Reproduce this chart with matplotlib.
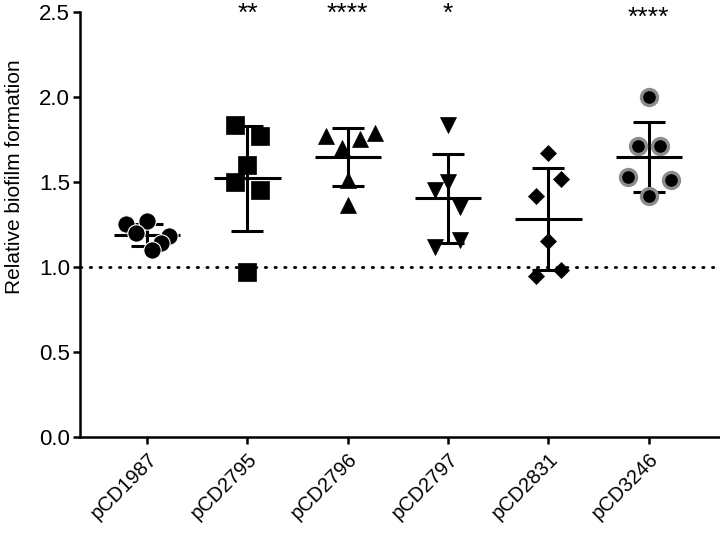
import numpy as np
import matplotlib
matplotlib.use("Agg")
import matplotlib.pyplot as plt

# ---- data ----
categories = ["pCD1987", "pCD2795", "pCD2796", "pCD2797", "pCD2831", "pCD3246"]
pCD1987 = [1.27, 1.25, 1.20, 1.18, 1.14, 1.10]
pCD2795 = [1.835, 1.77, 1.60, 1.50, 1.45, 0.97]
pCD2796 = [1.77, 1.70, 1.75, 1.79, 1.51, 1.365]
pCD2797 = [1.835, 1.50, 1.45, 1.355, 1.12, 1.16]
pCD2831 = [1.67, 1.52, 1.42, 1.153, 0.98, 0.95]
pCD3246 = [2.0, 1.71, 1.71, 1.53, 1.51, 1.42]
significance = ["", "**", "****", "*", "", "****"]
y_ticks = [0.0, 0.5, 1.0, 1.5, 2.0, 2.5]
baseline = 1.0
ylabel = "Relative biofilm formation"

groups = [pCD1987, pCD2795, pCD2796, pCD2797, pCD2831, pCD3246]

# ---- layout / style ----
jitter = [
    [0.0, -0.21, -0.11, 0.22, 0.14, 0.05],
    [-0.12, 0.12, 0.0, -0.12, 0.12, 0.0],
    [-0.22, -0.06, 0.12, 0.27, 0.0, 0.0],
    [0.0, 0.0, -0.13, 0.12, -0.13, 0.12],
    [0.0, 0.13, -0.12, 0.0, 0.13, -0.12],
    [0.0, -0.11, 0.11, -0.21, 0.22, 0.0],
]
styles = [
    dict(marker="o", ms=12.5, mfc="black", mec="white", mew=0.8),
    dict(marker="s", ms=12.5, mfc="black", mec="black", mew=0.5),
    dict(marker="^", ms=11.5, mfc="black", mec="black", mew=0.5),
    dict(marker="v", ms=12, mfc="black", mec="black", mew=0.5),
    dict(marker="D", ms=8.5, mfc="black", mec="black", mew=0.5),
    dict(marker="o", ms=11.5, mfc="black", mec="#8c8c8c", mew=2.4),
]
star_y = [2.49, 2.49, 2.49, 2.49, 2.49, 2.465]

plt.rcParams["font.family"] = ["Liberation Sans", "DejaVu Sans"]

fig = plt.figure(figsize=(7.2, 5.34), dpi=100)
ax = fig.add_axes([0.111, 0.1816, 0.889, 0.796])

x = np.arange(len(categories))

# baseline dotted line
ax.axhline(baseline, color="black", lw=2.0, linestyle=(0, (0.5, 3.0)),
           dash_capstyle="round", zorder=1)

for i, vals in enumerate(groups):
    v = np.asarray(vals)
    m = v.mean()
    sd = v.std(ddof=1)
    ax.errorbar([x[i]], [m], yerr=[sd], fmt="none", ecolor="black",
                elinewidth=2.2, capsize=11.5, capthick=2.2, zorder=2)
    ax.plot([x[i] - 0.33, x[i] + 0.33], [m, m], color="black", lw=2.2,
            solid_capstyle="butt", zorder=2)
    xs = x[i] + np.asarray(jitter[i])
    ax.plot(xs, v, linestyle="none", zorder=3, **styles[i])
    if significance[i]:
        ax.text(x[i], star_y[i], significance[i], ha="center", va="center",
                fontsize=19, clip_on=False)

ax.set_xlim(-0.67, 5.71)
ax.set_ylim(0, 2.5)
ax.set_yticks(y_ticks)
ax.set_yticklabels([f"{t:.1f}" for t in y_ticks], fontsize=16)
ax.set_xticks(x)
ax.set_xticklabels(categories, rotation=45, ha="right",
                   rotation_mode="anchor", fontsize=14.5)
ax.set_ylabel(ylabel, fontsize=15)
ax.yaxis.set_label_coords(-0.088, 0.612)

for s in ["top", "right"]:
    ax.spines[s].set_visible(False)
for s in ["left", "bottom"]:
    ax.spines[s].set_linewidth(1.8)
ax.tick_params(axis="both", width=1.8, length=5, color="black")
ax.tick_params(axis="y", pad=2)
ax.tick_params(axis="x", pad=4)

fig.savefig("out.png", dpi=100)
